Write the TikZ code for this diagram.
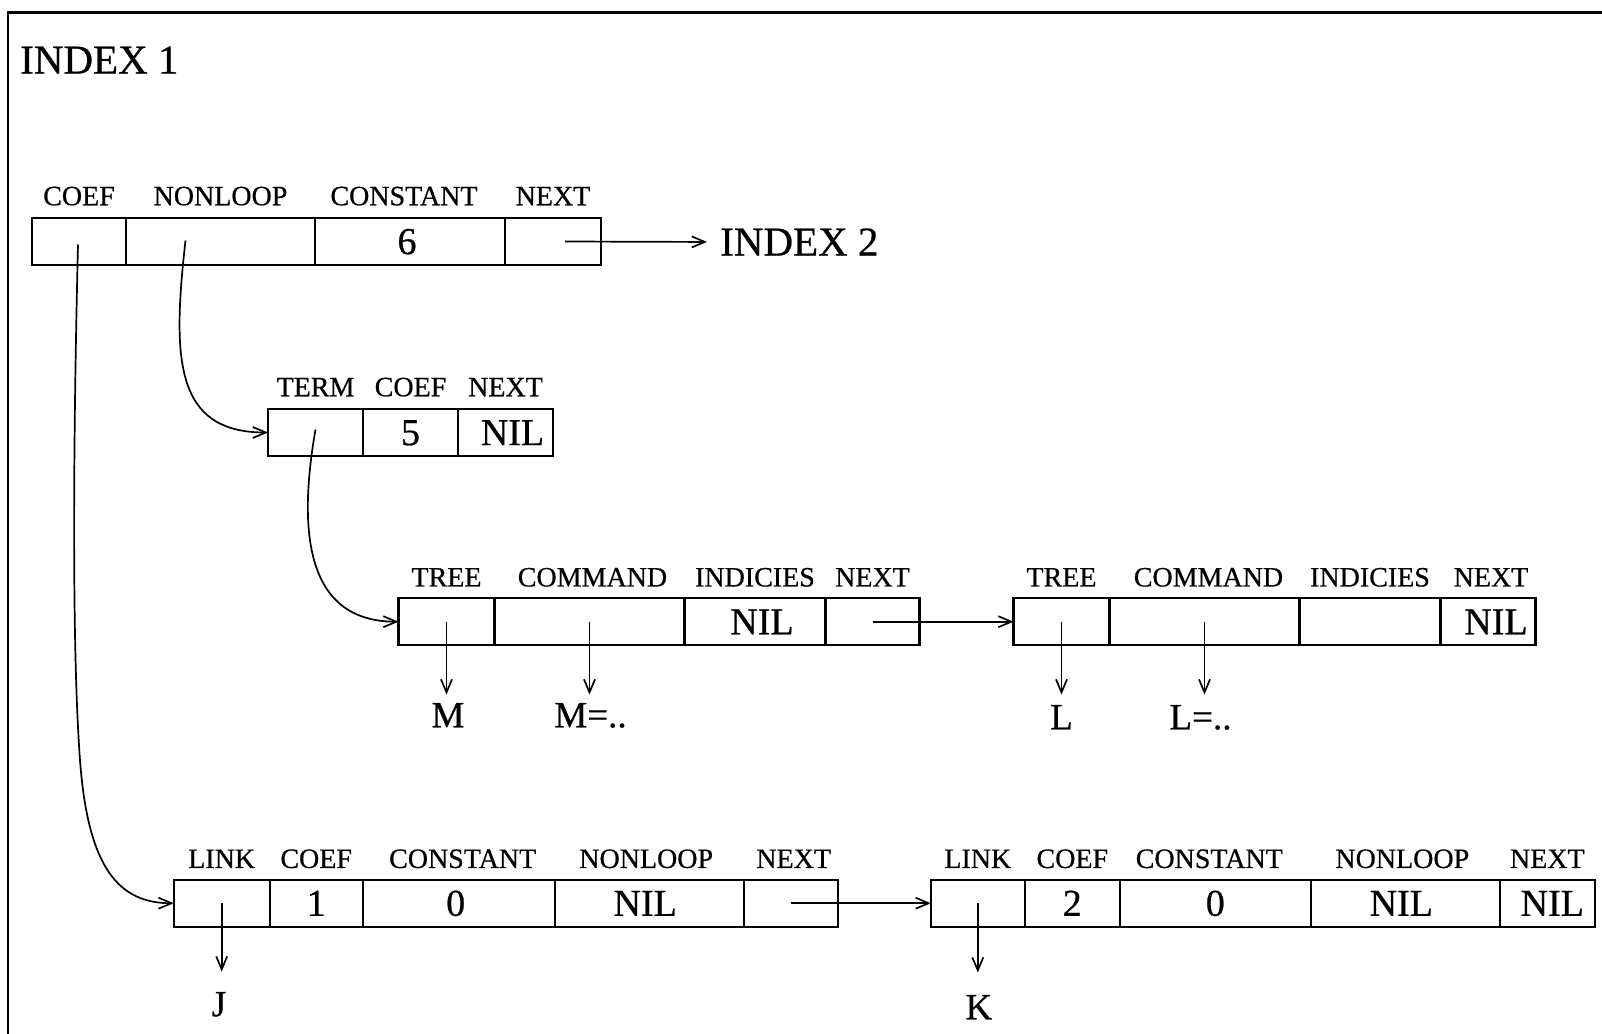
\documentclass[tikz,border=0pt]{standalone}
\usepackage{fontspec}
\setmainfont{Liberation Serif}[FakeBold=0.6]
\usetikzlibrary{arrows.meta,calc}
\newcommand\labfont{\fontsize{28}{30}\selectfont}
\newcommand\valfont{\fontsize{38}{40}\selectfont}
\newcommand\bigfont{\fontsize{41}{44}\selectfont}
\newcommand\ptrfont{\fontsize{37}{40}\selectfont}
\tikzset{
  cell/.style={draw, line width=2.2pt, minimum height=47pt, inner sep=0pt, outer sep=0pt,
    anchor=west, font=\valfont, text height=25.2pt, text depth=0pt},
  val/.style={inner sep=0pt, font=\valfont, text height=25.2pt, text depth=0pt},
  lab/.style={inner sep=0pt, font=\labfont, text height=18.5pt, text depth=0pt},
  ptrlab/.style={inner sep=0pt, font=\ptrfont, text height=24.5pt, text depth=0pt},
  big/.style={inner sep=0pt, font=\bigfont, text height=27.1pt, text depth=0pt},
  ptr/.style={line width=1.7pt, -{Straight Barb[length=13pt,width=11pt,line width=1.7pt]}},
  frame/.style={line width=2.2pt}
}
\begin{document}
\begin{tikzpicture}[x=1pt,y=-1pt]
\useasboundingbox (0,0) rectangle (1602,1033);
\fill[white] (0,0) rectangle (1602,1033);
% frame
\draw[frame] (8,1040) -- (8,12.5) -- (1610,12.5);
\node[big, anchor=west] (idx1) at (20,60) {INDEX 1};

% top record
\node[cell, minimum width=94pt] (r0a) at (32,241.5) {};
\node[cell, minimum width=189pt] (r0b) at (r0a.east) {};
\node[cell, minimum width=190pt, label={[val,xshift=-3pt]center:6}] (r0c) at (r0b.east) {};
\node[cell, minimum width=96pt] (r0d) at (r0c.east) {};
\node[lab] (r0la) at ([yshift=22pt]r0a.north) {COEF};
\node[lab] (r0lb) at ([yshift=22pt]r0b.north) {NONLOOP};
\node[lab] (r0lc) at ([yshift=22pt,xshift=-6pt]r0c.north) {CONSTANT};
\node[lab] (r0ld) at ([yshift=22pt]r0d.north) {NEXT};
\node[big, anchor=west] (idx2) at (720,242) {INDEX 2};
\draw[ptr, shorten >=13pt] ($(r0d.center)+(12,0)$) -- (idx2.west);

% term record
\node[cell, minimum width=95pt] (tm1) at (268,432.5) {};
\node[cell, minimum width=95pt] (tm2) at (tm1.east) {5};
\node[cell, minimum width=95pt, label={[val,xshift=7pt]center:NIL}] (tm3) at (tm2.east) {};
\node[lab] (tml1) at ([yshift=22pt]tm1.north) {TERM};
\node[lab] (tml2) at ([yshift=22pt]tm2.north) {COEF};
\node[lab] (tml3) at ([yshift=22pt]tm3.north) {NEXT};

% tree record 1
\node[cell, minimum width=96pt] (ta1) at (398.5,621.7) {};
\node[cell, minimum width=190pt] (ta2) at (ta1.east) {};
\node[cell, minimum width=141pt, label={[val,xshift=7pt]center:NIL}] (ta3) at (ta2.east) {};
\node[cell, minimum width=94pt] (ta4) at (ta3.east) {};
\node[lab] (tal1) at ([yshift=21pt]ta1.north) {TREE};
\node[lab] (tal2) at ([yshift=21pt,xshift=3pt]ta2.north) {COMMAND};
\node[lab] (tal3) at ([yshift=21pt]ta3.north) {INDICIES};
\node[lab] (tal4) at ([yshift=21pt]ta4.north) {NEXT};

% tree record 2
\node[cell, minimum width=96pt] (tb1) at (1013.5,621.7) {};
\node[cell, minimum width=190pt] (tb2) at (tb1.east) {};
\node[cell, minimum width=141pt] (tb3) at (tb2.east) {};
\node[cell, minimum width=95pt, label={[val,xshift=8pt]center:NIL}] (tb4) at (tb3.east) {};
\node[lab] (tbl1) at ([yshift=21pt]tb1.north) {TREE};
\node[lab] (tbl2) at ([yshift=21pt,xshift=4pt]tb2.north) {COMMAND};
\node[lab] (tbl3) at ([yshift=21pt]tb3.north) {INDICIES};
\node[lab] (tbl4) at ([yshift=21pt,xshift=3pt]tb4.north) {NEXT};

% link record 1
\node[cell, minimum width=96pt] (la1) at (173.7,903.2) {};
\node[cell, minimum width=93pt] (la2) at (la1.east) {1};
\node[cell, minimum width=192pt, label={[val,xshift=-3pt]center:0}] (la3) at (la2.east) {};
\node[cell, minimum width=189pt, label={[val,xshift=-4pt]center:NIL}] (la4) at (la3.east) {};
\node[cell, minimum width=94pt] (la5) at (la4.east) {};
\node[lab] (lal1) at ([yshift=21pt]la1.north) {LINK};
\node[lab] (lal2) at ([yshift=21pt]la2.north) {COEF};
\node[lab] (lal3) at ([yshift=21pt,xshift=4pt]la3.north) {CONSTANT};
\node[lab] (lal4) at ([yshift=21pt,xshift=-3pt]la4.north) {NONLOOP};
\node[lab] (lal5) at ([yshift=21pt,xshift=3pt]la5.north) {NEXT};

% link record 2
\node[cell, minimum width=94pt] (lb1) at (930.8,903.2) {};
\node[cell, minimum width=95pt] (lb2) at (lb1.east) {2};
\node[cell, minimum width=191pt] (lb3) at (lb2.east) {0};
\node[cell, minimum width=189pt, label={[val,xshift=-4pt]center:NIL}] (lb4) at (lb3.east) {};
\node[cell, minimum width=95pt, label={[val,xshift=5pt]center:NIL}] (lb5) at (lb4.east) {};
\node[lab] (lbl1) at ([yshift=21pt]lb1.north) {LINK};
\node[lab] (lbl2) at ([yshift=21pt]lb2.north) {COEF};
\node[lab] (lbl3) at ([yshift=21pt,xshift=-6pt]lb3.north) {CONSTANT};
\node[lab] (lbl4) at ([yshift=21pt,xshift=-3pt]lb4.north) {NONLOOP};
\node[lab] (lbl5) at ([yshift=21pt]lb5.north) {NEXT};

% pointer targets
\node[ptrlab] (pM) at (448,715) {M};
\node[ptrlab] (pMc) at (590.5,715) {M=..};
\node[ptrlab] (pL) at (1061.5,717) {L};
\node[ptrlab] (pLc) at (1200.5,717) {L=..};
\node[ptrlab] (pJ) at (219,1004) {J};
\node[ptrlab] (pK) at (978.8,1007) {K};

% curved pointers
\draw[ptr] ($(r0b.center)+(-35,-1)$) .. controls (172,360) and (175,432.5) .. (tm1.west);
\draw[ptr] ($(tm1.center)+(0,-3)$) .. controls (298,530) and (305,621.7) .. (ta1.west);
\draw[ptr] ($(r0a.center)+(-1,3)$) .. controls (73,450) and (72,650) .. (80,760)
   .. controls (88,870) and (120,903.2) .. (la1.west);

% horizontal next pointers
\draw[ptr] (ta4.center) -- (tb1.west);
\draw[ptr] (la5.center) -- (lb1.west);

% downward pointers
\draw[ptr, shorten >=8pt] (ta1.center) -- (ta1.center |- pM.north);
\draw[ptr, shorten >=8pt] (ta2.center) -- (ta2.center |- pMc.north);
\draw[ptr, shorten >=10pt] (tb1.center) -- (tb1.center |- pL.north);
\draw[ptr, shorten >=10pt] (tb2.center) -- (tb2.center |- pLc.north);
\draw[ptr, shorten >=20pt] (la1.center) -- (la1.center |- pJ.north);
\draw[ptr, shorten >=22pt] (lb1.center) -- (lb1.center |- pK.north);
\end{tikzpicture}
\end{document}
